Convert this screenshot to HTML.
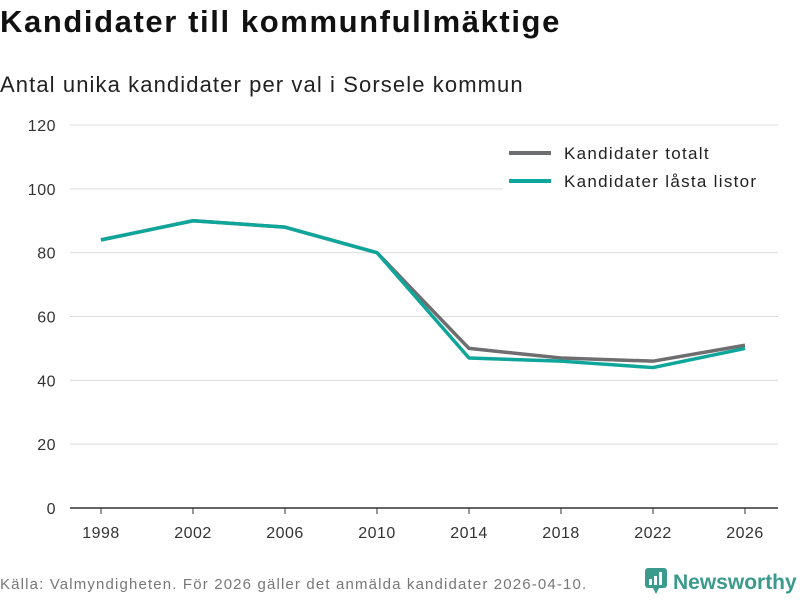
<!DOCTYPE html>
<html><head><meta charset="utf-8"><style>
body{margin:0;width:800px;height:600px;background:#fff;font-family:"Liberation Sans",sans-serif;overflow:hidden;position:relative}
.t{position:absolute;white-space:nowrap}
</style></head><body>
<div class="t" style="left:0;top:4px;font-size:31px;font-weight:bold;color:#111;letter-spacing:1.6px">Kandidater till kommunfullmäktige</div>
<div class="t" style="left:0;top:72px;font-size:22px;color:#222;letter-spacing:1.1px">Antal unika kandidater per val i Sorsele kommun</div>
<svg id="c" width="800" height="600" style="position:absolute;left:0;top:0"></svg>
<div class="t" style="left:0;top:576px;font-size:15px;color:#777;letter-spacing:1.15px">Källa: Valmyndigheten. För 2026 gäller det anmälda kandidater 2026-04-10.</div>
<div class="t" style="left:645px;top:568px;font-size:21px;font-weight:bold;color:#3a9a8c">
<svg width="22" height="26" style="vertical-align:-5px;margin-right:6px"><rect x="0" y="0" width="22" height="20" rx="3" fill="#3a9a8c"/><polygon points="8,20 14,20 11,26" fill="#3a9a8c"/><rect x="4" y="11" width="3" height="6" fill="#fff"/><rect x="9" y="8" width="3" height="9" fill="#fff"/><rect x="14" y="4" width="3" height="13" fill="#fff"/></svg>Newsworthy</div>
<script>
const years=["1998","2002","2006","2010","2014","2018","2022","2026"];
const totalt=[84,90,88,80,50,47,46,51];
const lasta=[84,90,88,80,47,46,44,50];
const yTicks=[0,20,40,60,80,100,120];
const svg=document.getElementById('c');
const NS='http://www.w3.org/2000/svg';
const x=i=>101+i*92, y=v=>508-v*(383/120);
function mk(t,a){const e=document.createElementNS(NS,t);for(const k in a)e.setAttribute(k,a[k]);svg.appendChild(e);return e;}
yTicks.forEach(v=>{
 const l=mk('line',{x1:70,x2:778,y1:y(v),y2:y(v),stroke:v?'#ddd':'#333','stroke-width':v?1:1.5});
 
 
 const t=mk('text',{x:56,y:y(v)+6,'text-anchor':'end','font-size':16,fill:'#333','letter-spacing':0.5});t.textContent=v;
 
 
});
years.forEach((yr,i)=>{
 const k=mk('line',{x1:x(i),x2:x(i),y1:508,y2:514,stroke:'#333'});
 
 
 const t=mk('text',{x:x(i),y:538,'text-anchor':'middle','font-size':16,fill:'#333','letter-spacing':0.5});t.textContent=yr;
 
 
});
const lg=mk('rect',{x:503,y:138,width:275,height:60,fill:'#fff'});


[[totalt,'#6e6e70','Kandidater totalt'],[lasta,'#0ea69a','Kandidater låsta listor']].forEach(([d,c,n],j)=>{
 const p=mk('polyline',{points:d.map((v,i)=>x(i)+','+y(v)).join(' '),fill:'none',stroke:c,'stroke-width':3.5,'stroke-linejoin':'round'});
 
 
 const ly=153+j*28;
 const s=mk('line',{x1:509,x2:551,y1:ly,y2:ly,stroke:c,'stroke-width':4});
 
 
 const t=mk('text',{x:564,y:ly+6,'font-size':17,fill:'#222','letter-spacing':1.3});t.textContent=n;
 
 
});
</script>
</body></html>
